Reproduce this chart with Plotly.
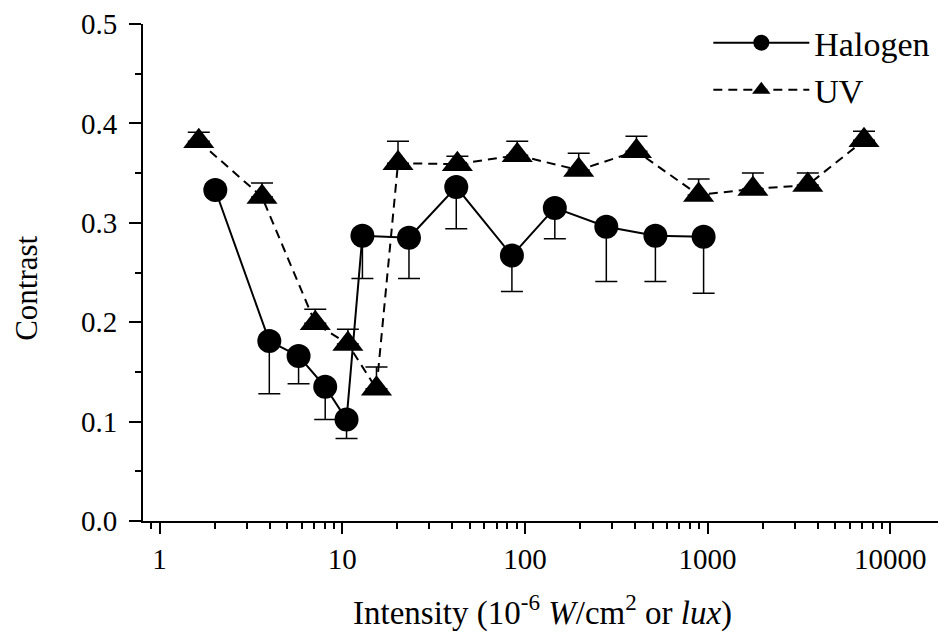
import plotly.graph_objects as go
import math

# ---- data ----
halogen_x = [2.02, 3.99, 5.77, 8.07, 10.56, 12.9, 23.2, 42.1, 84.9, 145.8, 279, 518, 951]
halogen_y = [0.333, 0.181, 0.166, 0.135, 0.102, 0.287, 0.285, 0.336, 0.267, 0.315, 0.296, 0.287, 0.286]
halogen_err_minus = [0.0, 0.053, 0.028, 0.033, 0.019, 0.043, 0.041, 0.042, 0.036, 0.031, 0.055, 0.046, 0.057]

uv_x = [1.64, 3.64, 7.12, 10.74, 15.4, 20.2, 42.7, 90.8, 197, 408, 893, 1770, 3535, 7180]
uv_y = [0.382, 0.326, 0.199, 0.178, 0.133, 0.360, 0.359, 0.368, 0.353, 0.372, 0.328, 0.334, 0.338, 0.383]
uv_err_plus = [0.009, 0.014, 0.014, 0.015, 0.022, 0.022, 0.008, 0.014, 0.017, 0.015, 0.016, 0.016, 0.012, 0.009]

x_tickvals = [1, 10, 100, 1000, 10000]
x_ticktext = ["1", "10", "100", "1000", "10000"]
y_tickvals = [0.0, 0.1, 0.2, 0.3, 0.4, 0.5]
y_ticktext = ["0.0", "0.1", "0.2", "0.3", "0.4", "0.5"]

FONT = "Liberation Serif, Times New Roman, serif"

fig = go.Figure()

fig.add_trace(go.Scatter(
    x=halogen_x, y=halogen_y, name="Halogen", mode="lines+markers",
    line=dict(color="black", width=2),
    marker=dict(symbol="circle", size=24, color="black"),
    error_y=dict(type="data", symmetric=False, array=[0] * len(halogen_y),
                 arrayminus=halogen_err_minus, color="black", thickness=1.5, width=11),
))

fig.add_trace(go.Scatter(
    x=uv_x, y=uv_y, name="UV", mode="lines+markers",
    line=dict(color="black", width=2, dash="9px,6px"),
    marker=dict(symbol="triangle-up", size=27, color="black"),
    error_y=dict(type="data", symmetric=False, array=uv_err_plus,
                 arrayminus=[0] * len(uv_y), color="black", thickness=1.5, width=11),
))

# the page body has an 8px default margin, so the figure is sized to fit inside it
fig.update_layout(
    width=938, height=628,
    margin=dict(l=135, r=0, t=13, b=115),
    paper_bgcolor="white", plot_bgcolor="white",
    font=dict(family=FONT, size=29, color="black"),
    showlegend=True,
    legend=dict(x=0.704, y=1.02, xanchor="left", yanchor="top",
                font=dict(family=FONT, size=34, color="black"),
                bgcolor="rgba(0,0,0,0)", itemwidth=96, tracegroupgap=0),
    xaxis=dict(
        type="log", range=[math.log10(0.812), 4.305],
        tickvals=x_tickvals, ticktext=x_ticktext,
        ticks="outside", ticklen=11, tickwidth=2, tickcolor="black",
        showline=True, linecolor="black", linewidth=2,
        showgrid=False, zeroline=False,
        minor=dict(ticks="outside", ticklen=6, tickwidth=2, tickcolor="black",
                   dtick="D1", showgrid=False),
        tickfont=dict(family=FONT, size=29),
        ticklabeloverflow="allow",
    ),
    yaxis=dict(
        range=[0, 0.5],
        tickvals=y_tickvals, ticktext=y_ticktext,
        ticks="outside", ticklen=12, tickwidth=2, tickcolor="black",
        showline=True, linecolor="black", linewidth=2,
        showgrid=False, zeroline=False,
        minor=dict(ticks="outside", ticklen=6, tickwidth=2, tickcolor="black",
                   dtick=0.05, showgrid=False),
        tickfont=dict(family=FONT, size=29),
        ticklabelstandoff=6,
        ticklabeloverflow="allow",
    ),
    annotations=[
        dict(text="Contrast", textangle=-90, xref="paper", yref="paper",
             x=-0.1445, y=0.469, xanchor="center", yanchor="middle",
             showarrow=False, font=dict(family=FONT, size=31)),
        dict(text="Intensity (10<sup>-6</sup> <i>W</i>/cm<sup>2</sup> or <i>lux</i>)",
             xref="paper", yref="paper", x=0.4975, y=-0.18,
             xanchor="center", yanchor="middle",
             showarrow=False, font=dict(family=FONT, size=33)),
    ],
)

fig.write_html("out.html")
